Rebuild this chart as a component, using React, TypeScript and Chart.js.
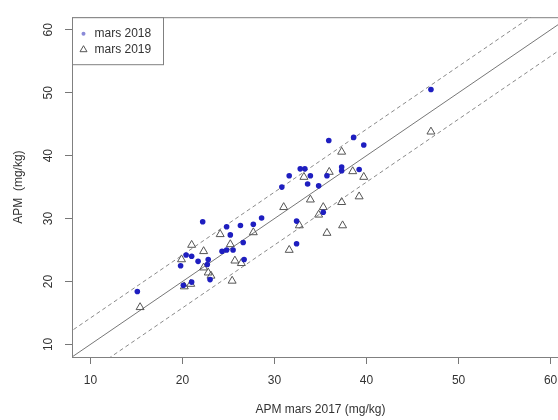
import React, { useEffect, useRef } from "react";
import { Chart, registerables } from "chart.js";

Chart.register(...registerables);

const x2018 = [15.1, 19.8, 20.4, 21.0, 21.7, 22.8, 22.7, 23.0, 20.1, 21.0, 22.2, 24.3, 24.8, 25.5, 24.8, 25.2, 26.3, 26.6, 26.7, 27.7, 28.6, 30.8, 31.6, 32.8, 33.3, 33.9, 33.6, 34.8, 35.7, 35.9, 37.3, 37.3, 38.6, 39.7, 39.2, 32.4, 32.4, 35.3, 47.0];
const y2018 = [18.4, 22.5, 24.2, 24.0, 23.2, 23.5, 22.7, 20.3, 19.4, 19.9, 29.5, 24.8, 25.0, 25.0, 28.7, 27.4, 28.9, 26.2, 23.5, 29.1, 30.1, 35.0, 36.8, 37.9, 37.9, 36.8, 35.5, 35.2, 36.8, 42.4, 38.2, 37.6, 42.9, 41.7, 37.8, 29.6, 26.0, 31.0, 50.5];
const x2019 = [15.4, 19.9, 21.0, 22.3, 22.3, 22.8, 23.1, 20.2, 20.9, 24.1, 25.2, 25.7, 26.4, 25.4, 27.7, 31.0, 32.7, 31.6, 33.2, 35.95, 37.3, 38.5, 39.7, 33.9, 34.8, 35.3, 37.3, 39.2, 35.7, 37.4, 47.0];
const y2019 = [15.9, 23.5, 25.8, 24.8, 22.2, 21.4, 20.9, 19.2, 19.6, 27.5, 25.9, 23.3, 22.9, 20.1, 27.8, 31.8, 28.9, 25.0, 36.6, 37.4, 40.6, 37.5, 36.6, 33.0, 30.6, 31.8, 32.6, 33.5, 27.7, 28.9, 43.8];

const refX = [0, 70];
const identityY = [0, 70];
const upperY = [4.2, 74.2];
const lowerY = [-4.2, 65.8];

const xTicks = [10, 20, 30, 40, 50, 60];
const yTicks = [10, 20, 30, 40, 50, 60];
const seriesLabels = ["mars 2018", "mars 2019"];
const xTitle = "APM mars 2017 (mg/kg)";
const yTitle = "APM  (mg/kg)";

const FONT = "'Liberation Sans', Arial, sans-serif";
const BLUE = "#1e1ec0";
const TRI = "#555555";
const TEXT = "#333333";

const pts = (xs: number[], ys: number[]) => xs.map((x, i) => ({ x, y: ys[i] }));

const framePlugin = {
  id: "frame",
  afterDatasetsDraw(chart: any) {
    const { ctx, chartArea } = chart;
    ctx.save();
    ctx.strokeStyle = "#808080";
    ctx.lineWidth = 1;
    ctx.strokeRect(chartArea.left + 0.5, chartArea.top + 0.5, chartArea.right - chartArea.left, chartArea.bottom - chartArea.top);
    // legend box
    const x0 = chartArea.left + 0.5;
    const y0 = chartArea.top + 0.5;
    const w = 91;
    const h = 47;
    ctx.fillStyle = "#fff";
    ctx.fillRect(x0, y0, w, h);
    ctx.strokeRect(x0, y0, w, h);
    const ds = chart.data.datasets;
    ctx.font = `12px ${FONT}`;
    ctx.textBaseline = "middle";
    ctx.textAlign = "left";
    for (let i = 0; i < 2; i++) {
      const cy = y0 + 16 + i * 15.5;
      const mx = x0 + 11;
      if (i === 0) {
        ctx.beginPath();
        ctx.fillStyle = "#8a8ad8";
        ctx.arc(mx, cy, 2, 0, Math.PI * 2);
        ctx.fill();
      } else {
        ctx.beginPath();
        ctx.strokeStyle = "#555";
        ctx.lineWidth = 1;
        ctx.moveTo(mx, cy - 3.5);
        ctx.lineTo(mx + 3.5, cy + 2.5);
        ctx.lineTo(mx - 3.5, cy + 2.5);
        ctx.closePath();
        ctx.stroke();
      }
      ctx.fillStyle = TEXT;
      ctx.fillText(ds[i].label, x0 + 22, cy);
    }
    ctx.restore();
  },
};

export default function App() {
  const ref = useRef<HTMLCanvasElement | null>(null);
  useEffect(() => {
    if (!ref.current) return;
    const chart = new Chart(ref.current, {
      type: "scatter",
      data: {
        datasets: [
          {
            label: seriesLabels[0],
            data: pts(x2018, y2018),
            pointStyle: "circle",
            pointRadius: 2.8,
            backgroundColor: BLUE,
            borderColor: BLUE,
            borderWidth: 0,
          },
          {
            label: seriesLabels[1],
            data: pts(x2019, y2019),
            pointStyle: "triangle",
            pointRadius: 4.6,
            backgroundColor: "rgba(0,0,0,0)",
            borderColor: TRI,
            borderWidth: 1,
          },
          {
            label: "y=x",
            data: pts(refX, identityY),
            showLine: true,
            pointRadius: 0,
            borderColor: "#777",
            borderWidth: 1,
          },
          {
            label: "upper",
            data: pts(refX, upperY),
            showLine: true,
            pointRadius: 0,
            borderColor: "#8a8a8a",
            borderWidth: 1,
            borderDash: [4, 3],
          },
          {
            label: "lower",
            data: pts(refX, lowerY),
            showLine: true,
            pointRadius: 0,
            borderColor: "#8a8a8a",
            borderWidth: 1,
            borderDash: [4, 3],
          },
        ],
      },
      options: {
        animation: false,
        responsive: false,
        events: [],
        layout: { padding: { top: 17, right: 31, left: 0, bottom: 0 } },
        plugins: { legend: { display: false }, tooltip: { enabled: false } },
        scales: {
          x: {
            type: "linear",
            min: 8,
            max: 62,
            afterBuildTicks: (s: any) => {
              s.ticks = xTicks.map((v) => ({ value: v }));
            },
            afterFit: (s: any) => {
              s.height = 63;
            },
            grid: { drawOnChartArea: false, drawTicks: true, tickLength: 7, color: "#777" },
            border: { display: false },
            ticks: { padding: 9, maxRotation: 0, font: { family: FONT, size: 12 }, color: TEXT },
            title: { display: true, text: xTitle, font: { family: FONT, size: 12 }, color: TEXT, padding: { top: 0, bottom: 3 } },
          },
          y: {
            type: "linear",
            min: 8,
            max: 62,
            afterBuildTicks: (s: any) => {
              s.ticks = yTicks.map((v) => ({ value: v }));
            },
            afterFit: (s: any) => {
              s.width = 72;
            },
            grid: { drawOnChartArea: false, drawTicks: true, tickLength: 7, color: "#777" },
            border: { display: false },
            ticks: { minRotation: 90, maxRotation: 90, crossAlign: "center", padding: 10, font: { family: FONT, size: 12 }, color: TEXT },
            title: { display: true, text: yTitle, font: { family: FONT, size: 12 }, color: TEXT, padding: { top: 11, bottom: 0 } },
          },
        },
      },
      plugins: [framePlugin],
    } as any);
    return () => chart.destroy();
  }, []);
  return (
    <div style={{ position: "fixed", left: 0, top: 0, width: 558, height: 420, overflow: "hidden", background: "#fff" }}>
      <canvas ref={ref} width={600} height={420} style={{ display: "block" }} />
    </div>
  );
}
